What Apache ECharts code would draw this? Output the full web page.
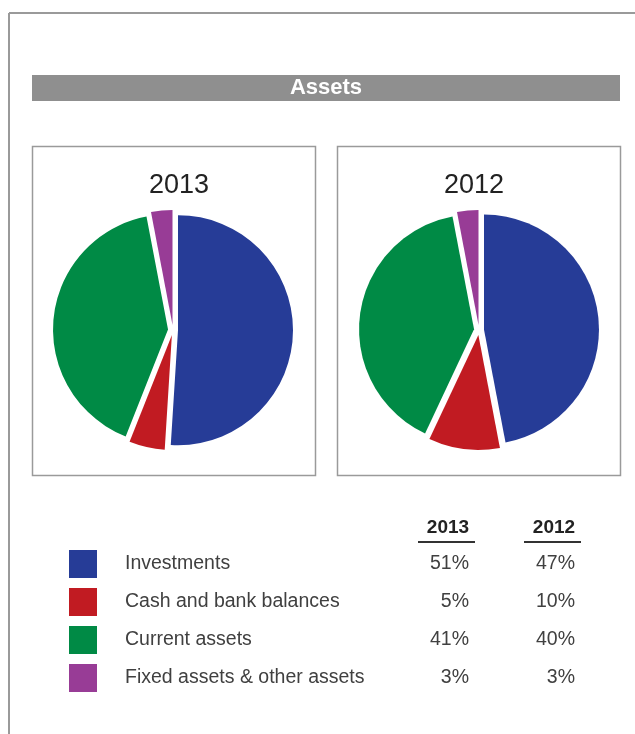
<!DOCTYPE html>
<html>
<head>
<meta charset="utf-8">
<script src="https://cdn.jsdelivr.net/npm/echarts@6/dist/echarts.min.js"></script>
<style>
  html, body { margin: 0; padding: 0; background: #fff; }
  #main { width: 635px; height: 734px; }
</style>
</head>
<body>
<div id="main"></div>
<script>
// data
var categories = ['Investments', 'Cash and bank balances', 'Current assets', 'Fixed assets & other assets'];
var years = ['2013', '2012'];
var values2013 = [51, 5, 41, 3];
var values2012 = [47, 10, 40, 3];
var colors = ['#263c97', '#c11b22', '#008a45', '#983c96'];

var FONT = 'Liberation Sans, Arial, sans-serif';
var chart = echarts.init(document.getElementById('main'));

function pieData(vals) {
  return vals.map(function (v, i) {
    return { name: categories[i], value: v, selected: true, itemStyle: { color: colors[i] } };
  });
}

function pieSeries(vals, cx) {
  return {
    type: 'pie',
    center: [cx, 330],
    radius: 115,
    startAngle: 90,
    clockwise: true,
    selectedMode: 'multiple',
    selectedOffset: 5,
    label: { show: false },
    labelLine: { show: false },
    emphasis: { disabled: true },
    animation: false,
    data: pieData(vals)
  };
}

var graphics = [
  // page border
  { type: 'line', shape: { x1: 9, y1: 13, x2: 635, y2: 13 }, style: { stroke: '#9a9a9a', lineWidth: 2 } },
  { type: 'line', shape: { x1: 9, y1: 13, x2: 9, y2: 734 }, style: { stroke: '#9a9a9a', lineWidth: 2 } },
  // header bar
  { type: 'rect', shape: { x: 32, y: 75, width: 588, height: 26 }, style: { fill: '#8f8f8f' } },
  { type: 'text', x: 326, y: 88, style: { text: 'Assets', fill: '#fff', font: 'bold 22px ' + FONT, align: 'center', verticalAlign: 'middle' } },
  // boxes
  { type: 'rect', shape: { x: 32.5, y: 146.5, width: 283, height: 329 }, style: { fill: 'none', stroke: '#9a9a9a', lineWidth: 1.5 } },
  { type: 'rect', shape: { x: 337.5, y: 146.5, width: 283, height: 329 }, style: { fill: 'none', stroke: '#9a9a9a', lineWidth: 1.5 } }
];

// legend table built from the arrays
var colX = [469, 575];
years.forEach(function (y, j) {
  graphics.push({ type: 'text', x: colX[j] - 21, y: 528, style: { text: y, fill: '#222', font: 'bold 19px ' + FONT, align: 'center', verticalAlign: 'middle' } });
  graphics.push({ type: 'line', shape: { x1: colX[j] - 51, y1: 542, x2: colX[j] + 6, y2: 542 }, style: { stroke: '#333', lineWidth: 2 } });
});

var allVals = [values2013, values2012];
categories.forEach(function (c, i) {
  var ry = 564 + i * 38;
  graphics.push({ type: 'rect', shape: { x: 69, y: ry - 14, width: 28, height: 28 }, style: { fill: colors[i] } });
  graphics.push({ type: 'text', x: 125, y: ry, style: { text: c, fill: '#404040', font: '19.5px ' + FONT, verticalAlign: 'middle' } });
  allVals.forEach(function (vals, j) {
    graphics.push({ type: 'text', x: colX[j], y: ry, style: { text: vals[i] + '%', fill: '#404040', font: '19.5px ' + FONT, align: 'right', verticalAlign: 'middle' } });
  });
});

chart.setOption({
  animation: false,
  title: [
    { text: years[0], left: 174, top: 167, textAlign: 'center', textStyle: { fontFamily: FONT, fontSize: 27, fontWeight: 'normal', color: '#222' } },
    { text: years[1], left: 469, top: 167, textAlign: 'center', textStyle: { fontFamily: FONT, fontSize: 27, fontWeight: 'normal', color: '#222' } }
  ],
  series: [pieSeries(values2013, 173), pieSeries(values2012, 479)],
  graphic: graphics
});
</script>
</body>
</html>
